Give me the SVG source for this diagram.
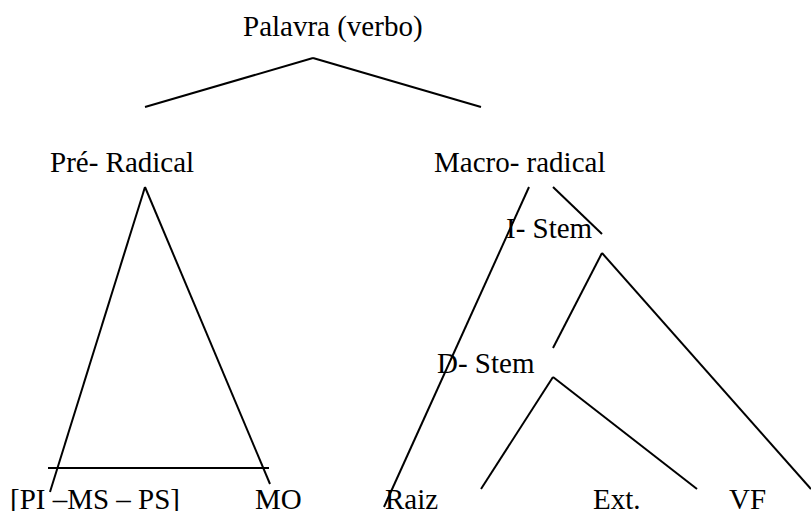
<svg xmlns="http://www.w3.org/2000/svg" width="811" height="511" viewBox="0 0 811 511">
<style>
text{font-family:"Liberation Serif","Times New Roman",serif;font-size:29px;fill:#000}
line{stroke:#000;stroke-width:2;stroke-linecap:butt}
</style>
<rect width="811" height="511" fill="#fff"/>
<g id="connectors">
<line x1="145" y1="107" x2="313" y2="58"/>
<line x1="313" y1="58" x2="481" y2="107"/>
<line x1="145" y1="187" x2="50" y2="492"/>
<line x1="145" y1="187" x2="270" y2="484"/>
<line x1="48" y1="468" x2="269" y2="468"/>
<line x1="529" y1="187" x2="384" y2="507"/>
<line x1="553" y1="187" x2="602" y2="234"/>
<line x1="602" y1="253" x2="553" y2="348"/>
<line x1="602" y1="253" x2="811" y2="489"/>
<line x1="553" y1="377" x2="481" y2="489"/>
<line x1="553" y1="377" x2="697" y2="489"/>
</g>
<g id="palavra"><text x="243" y="36">Palavra (verbo)</text></g>
<g id="pre-radical"><text x="50" y="172">Pré- Radical</text></g>
<g id="macro-radical"><text x="434" y="172">Macro- radical</text></g>
<g id="i-stem"><text x="506" y="238">I- Stem</text></g>
<g id="d-stem"><text x="437" y="373">D- Stem</text></g>
<g id="pi-ms-ps"><text x="10" y="509">[PI –MS – PS]</text></g>
<g id="mo"><text x="255" y="509">MO</text></g>
<g id="raiz"><text x="385" y="509">Raiz</text></g>
<g id="ext"><text x="593" y="509">Ext.</text></g>
<g id="vf"><text x="729" y="509">VF</text></g>
</svg>
